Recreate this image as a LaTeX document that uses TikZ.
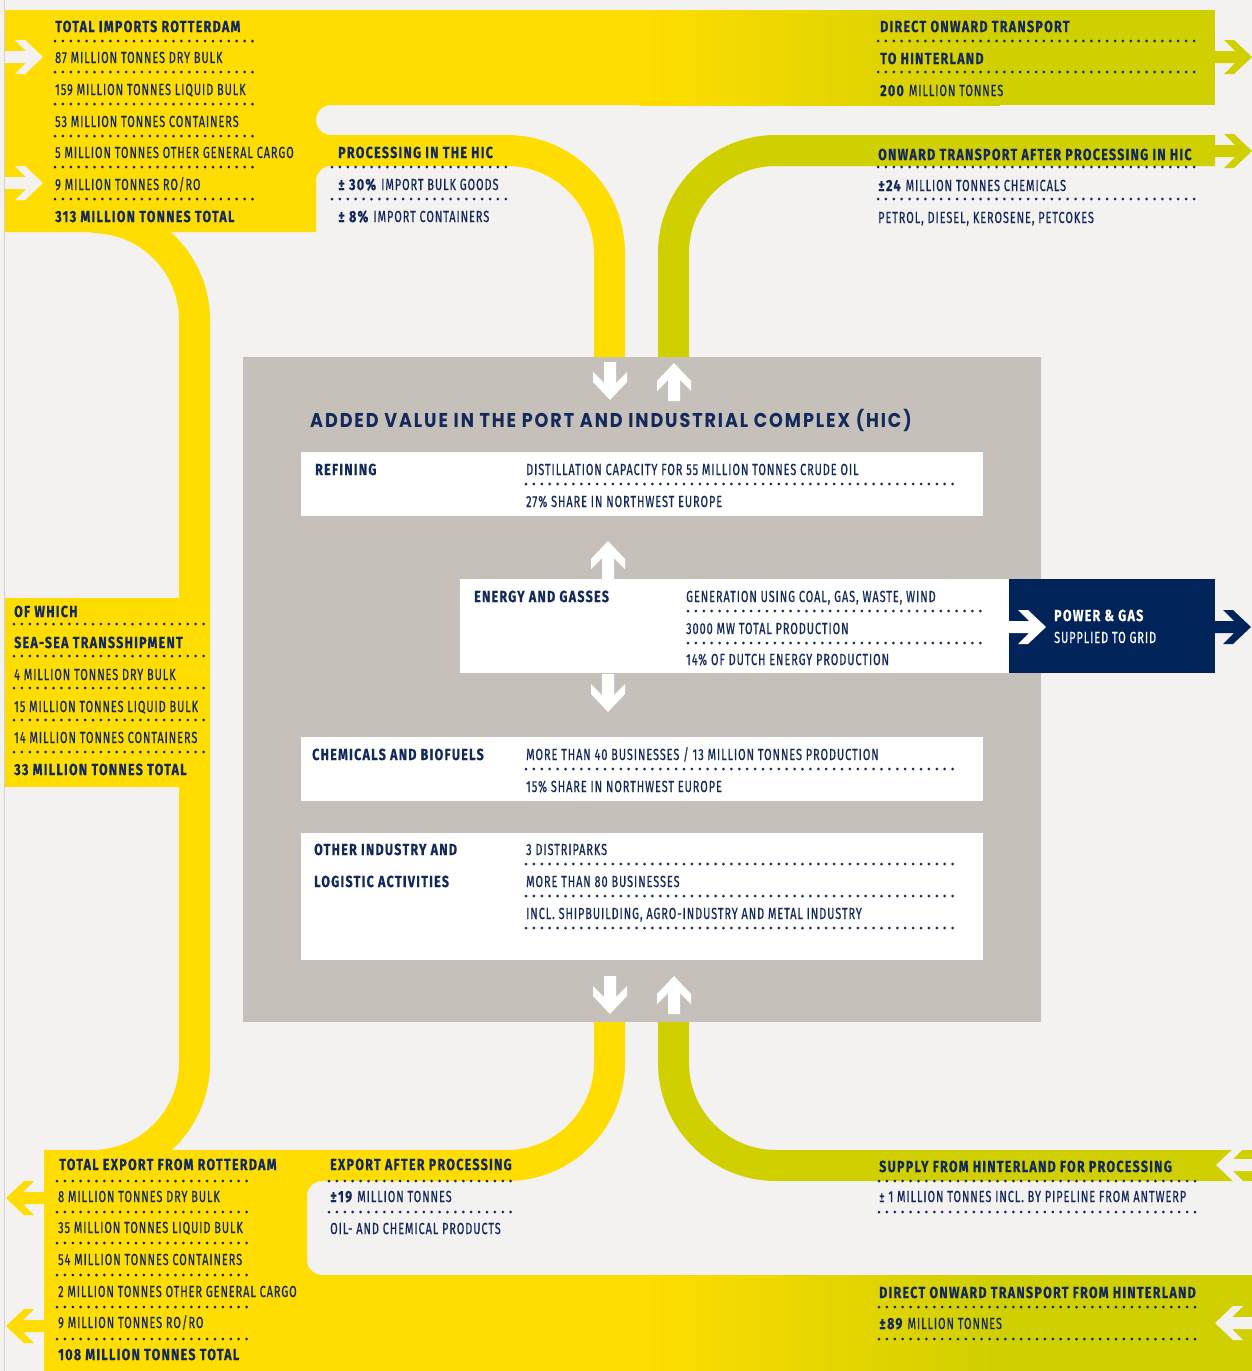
\documentclass[tikz,border=0pt]{standalone}
\usepackage{fontspec}
\setmainfont{Fira Sans}[FakeStretch=0.68, LetterSpace=6, UprightFeatures={FakeBold=0.6}, BoldFeatures={FakeStretch=0.78, LetterSpace=8, FakeBold=0.5}]
\newfontfamily\titlefont{Poppins}[FakeStretch=0.88, LetterSpace=9.5]
\definecolor{bg}{HTML}{F3F2F0}
\definecolor{yel}{HTML}{FFDD00}
\definecolor{lime}{HTML}{D0CF00}
\definecolor{navy}{HTML}{14295B}
\definecolor{navybox}{HTML}{00235A}
\definecolor{greybox}{HTML}{C5C1BA}
\tikzset{
 txt/.style={anchor=base west, inner sep=0pt, text=navy, font=\fontsize{16}{16}\selectfont},
 hd/.style={txt, font=\fontsize{16}{16}\selectfont\bfseries},
 wtxt/.style={txt, text=white},
 dotline/.style={navy, line width=3pt, line cap=round, dash pattern=on 0pt off 7.9pt},
 panel/.style={anchor=north west, inner sep=0pt, outer sep=0pt},
 pics/barrow/.style={code={\fill[#1] (-38,-6) -- (-17,-6) -- (-28,-17) -- (-18,-17) -- (0,0) -- (-18,17) -- (-28,17) -- (-17,6) -- (-38,6) -- cycle;}},
}
\begin{document}
\begin{tikzpicture}[x=1pt,y=-1pt]
\useasboundingbox (0,0) rectangle (1252,1371);
\fill[bg] (0,0) rectangle (1252,1371);
\draw[line width=1pt, black!18] (4.5,0) -- (4.5,1371);

% grey complex
\node[panel, fill=greybox, minimum width=798pt, minimum height=665pt] (hic) at (243,357) {};

% top band
\fill[yel] (5,10) rectangle (641,105);
\shade[left color=yel,right color=lime] (640,10) rectangle (1000,105);
\fill[lime] (999,10) rectangle (1215,105);

% imports + processing flow
\fill[yel] (5,10) -- (641,10) -- (641,105) -- (331,105) .. controls (322.7,105) and (316,111.7) .. (316,120) .. controls (316,128.3) and (322.7,135) .. (331,135) -- (507,135) .. controls (572.2,135) and (625,187.8) .. (625,253) -- (625,357) -- (594,357) -- (594,253) .. controls (594,204.95) and (555.05,166) .. (507,166) -- (331,166) .. controls (322.7,166) and (316,172.7) .. (316,181) -- (316,232) -- (5,232) -- cycle;

% left transshipment band
\fill[yel] (92,202) .. controls (157.2,202) and (210,254.8) .. (210,320) -- (210,1063) .. controls (210,1128.2) and (157.2,1181) .. (92,1181) -- (92,1150) .. controls (140.05,1150) and (179,1111.05) .. (179,1063) -- (179,320) .. controls (179,271.95) and (140.05,233) .. (92,233) -- cycle;
\node[panel, fill=yel, minimum width=205pt, minimum height=189pt] (seabox) at (5,598) {};

% export flow
\fill[yel] (44,1150) -- (507,1150) .. controls (555.05,1150) and (594,1111.05) .. (594,1063) -- (594,1022) -- (625,1022) -- (625,1063) .. controls (625,1128.2) and (572.2,1181) .. (507,1181) -- (322,1181) .. controls (313.7,1181) and (307,1187.7) .. (307,1196) -- (307,1260) .. controls (307,1268.3) and (313.7,1275) .. (322,1275) -- (641,1275) -- (641,1371) -- (44,1371) -- cycle;
\shade[left color=yel,right color=lime] (640,1275) rectangle (1000,1371);
\fill[lime] (999,1275) rectangle (1252,1371);

% lime flows
\fill[lime] (1215,135) -- (776,135) .. controls (710.8,135) and (658,187.8) .. (658,253) -- (658,357) -- (689,357) -- (689,253) .. controls (689,204.95) and (727.95,166) .. (776,166) -- (1215,166) -- cycle;
\fill[lime] (1252,1150) -- (776,1150) .. controls (727.95,1150) and (689,1111.05) .. (689,1063) -- (689,1022) -- (658,1022) -- (658,1063) .. controls (658,1128.2) and (710.8,1181) .. (776,1181) -- (1252,1181) -- cycle;

% white panels
\node[panel, fill=white, minimum width=682pt, minimum height=64pt] (refbox) at (301,452) {};
\node[panel, fill=white, minimum width=549pt, minimum height=94pt] (enbox) at (460,579) {};
\node[panel, fill=navybox, minimum width=206pt, minimum height=94pt] (gridbox) at (1009,579) {};
\node[panel, fill=white, minimum width=682pt, minimum height=64pt] (chembox) at (301,737) {};
\node[panel, fill=white, minimum width=682pt, minimum height=127pt] (othbox) at (301,833) {};

% arrows
\pic at (43,57) {barrow=bg};
\pic at (43,183) {barrow=bg};
\pic at (1252,57) {barrow=lime};
\pic at (1252,151) {barrow=lime};
\pic[rotate=180] at (6,1198) {barrow=yel};
\pic[rotate=180] at (6,1326) {barrow=yel};
\pic[rotate=180] at (1216,1165) {barrow=bg};
\pic[rotate=180] at (1215,1323) {barrow=bg};
\pic at (1046,627) {barrow=white};
\pic at (1251,627) {barrow=navybox};
\pic[rotate=-90] at (610,400) {barrow=white};
\pic[rotate=90] at (674,363) {barrow=white};
\pic[rotate=90] at (608,541) {barrow=white};
\pic[rotate=-90] at (608,712) {barrow=white};
\pic[rotate=-90] at (610,1014) {barrow=white};
\pic[rotate=90] at (674,976) {barrow=white};

% dotted rules
\foreach \y in {41,72,104,136,167,199} \draw[dotline] (55,\y) -- (257,\y);
\foreach \y in {167,199} \draw[dotline] (332,\y) -- (511,\y);
\foreach \y in {41,72,167,199} \draw[dotline] (878,\y) -- (1197,\y);
\draw[dotline] (526,484) -- (953,484);
\foreach \y in {611,643} \draw[dotline] (688,\y) -- (984,\y);
\draw[dotline] (526,769) -- (953,769);
\foreach \y in {864,896,928} \draw[dotline] (526,\y) -- (953,\y);
\foreach \y in {624,656,688,720,752} \draw[dotline] (14,\y) -- (204,\y);
\foreach \y in {1181,1212,1243,1275,1307,1339} \draw[dotline] (57,\y) -- (254,\y);
\foreach \y in {1181,1212} \draw[dotline] (329,\y) -- (515,\y);
\foreach \y in {1181,1212,1307,1339} \draw[dotline] (879,\y) -- (1198,\y);

% texts: imports
\node[hd] (imp0) at (55,32) {TOTAL IMPORTS ROTTERDAM};
\node[txt] (imp1) at (55,63) {87 MILLION TONNES DRY BULK};
\node[txt] (imp2) at (55,95) {159 MILLION TONNES LIQUID BULK};
\node[txt] (imp3) at (55,127) {53 MILLION TONNES CONTAINERS};
\node[txt] (imp4) at (55,158) {5 MILLION TONNES OTHER GENERAL CARGO};
\node[txt] (imp5) at (55,190) {9 MILLION TONNES RO/RO};
\node[hd] (imp6) at (55,222) {313 MILLION TONNES TOTAL};

\node[hd] (proc0) at (338,158) {PROCESSING IN THE HIC};
\node[txt] (proc1) at (338,190) {\textbf{± 30\%} IMPORT BULK GOODS};
\node[txt] (proc2) at (338,222) {\textbf{± 8\%} IMPORT CONTAINERS};

\node[hd] (dir0) at (880,32) {DIRECT ONWARD TRANSPORT};
\node[hd] (dir1) at (880,64) {TO HINTERLAND};
\node[txt] (dir2) at (880,96) {\textbf{200} MILLION TONNES};

\node[hd] (onw0) at (878,160) {ONWARD TRANSPORT AFTER PROCESSING IN HIC};
\node[txt] (onw1) at (878,191) {\textbf{±24} MILLION TONNES CHEMICALS};
\node[txt] (onw2) at (878,223) {PETROL, DIESEL, KEROSENE, PETCOKES};

\node[anchor=base west, inner sep=0pt, text=navy, font=\titlefont\bfseries\fontsize{20}{20}\selectfont] (title) at (310,427) {ADDED VALUE IN THE PORT AND INDUSTRIAL COMPLEX (HIC)};

\node[hd] (ref0) at (315,475) {REFINING};
\node[txt] (ref1) at (526,475) {DISTILLATION CAPACITY FOR 55 MILLION TONNES CRUDE OIL};
\node[txt] (ref2) at (526,507) {27\% SHARE IN NORTHWEST EUROPE};

\node[hd] (en0) at (474,602) {ENERGY AND GASSES};
\node[txt] (en1) at (686,602) {GENERATION USING COAL, GAS, WASTE, WIND};
\node[txt] (en2) at (686,634) {3000 MW TOTAL PRODUCTION};
\node[txt] (en3) at (686,665) {14\% OF DUTCH ENERGY PRODUCTION};
\node[hd, text=white] (pg0) at (1054,621) {POWER \& GAS};
\node[wtxt] (pg1) at (1054,643) {SUPPLIED TO GRID};

\node[hd] (ch0) at (312,760) {CHEMICALS AND BIOFUELS};
\node[txt] (ch1) at (526,760) {MORE THAN 40 BUSINESSES / 13 MILLION TONNES PRODUCTION};
\node[txt] (ch2) at (526,792) {15\% SHARE IN NORTHWEST EUROPE};

\node[hd] (ot0) at (314,855) {OTHER INDUSTRY AND};
\node[hd] (ot1) at (314,887) {LOGISTIC ACTIVITIES};
\node[txt] (ot2) at (526,855) {3 DISTRIPARKS};
\node[txt] (ot3) at (526,887) {MORE THAN 80 BUSINESSES};
\node[txt] (ot4) at (526,919) {INCL. SHIPBUILDING, AGRO-INDUSTRY AND METAL INDUSTRY};

\node[hd] (sea0) at (14,617) {OF WHICH};
\node[hd] (sea1) at (14,648) {SEA-SEA TRANSSHIPMENT};
\node[txt] (sea2) at (14,680) {4 MILLION TONNES DRY BULK};
\node[txt] (sea3) at (14,712) {15 MILLION TONNES LIQUID BULK};
\node[txt] (sea4) at (14,743) {14 MILLION TONNES CONTAINERS};
\node[hd] (sea5) at (14,775) {33 MILLION TONNES TOTAL};

\node[hd] (exp0) at (59,1170) {TOTAL EXPORT FROM ROTTERDAM};
\node[txt] (exp1) at (58,1202) {8 MILLION TONNES DRY BULK};
\node[txt] (exp2) at (58,1233) {35 MILLION TONNES LIQUID BULK};
\node[txt] (exp3) at (58,1265) {54 MILLION TONNES CONTAINERS};
\node[txt] (exp4) at (58,1297) {2 MILLION TONNES OTHER GENERAL CARGO};
\node[txt] (exp5) at (58,1328) {9 MILLION TONNES RO/RO};
\node[hd] (exp6) at (58,1360) {108 MILLION TONNES TOTAL};

\node[hd] (eap0) at (330,1170) {EXPORT AFTER PROCESSING};
\node[txt] (eap1) at (330,1202) {\textbf{±19} MILLION TONNES};
\node[txt] (eap2) at (330,1234) {OIL- AND CHEMICAL PRODUCTS};

\node[hd] (sup0) at (879,1172) {SUPPLY FROM HINTERLAND FOR PROCESSING};
\node[txt] (sup1) at (879,1202) {± 1 MILLION TONNES INCL. BY PIPELINE FROM ANTWERP};
\node[hd] (dfh0) at (879,1298) {DIRECT ONWARD TRANSPORT FROM HINTERLAND};
\node[txt] (dfh1) at (879,1329) {\textbf{±89} MILLION TONNES};
\end{tikzpicture}
\end{document}
